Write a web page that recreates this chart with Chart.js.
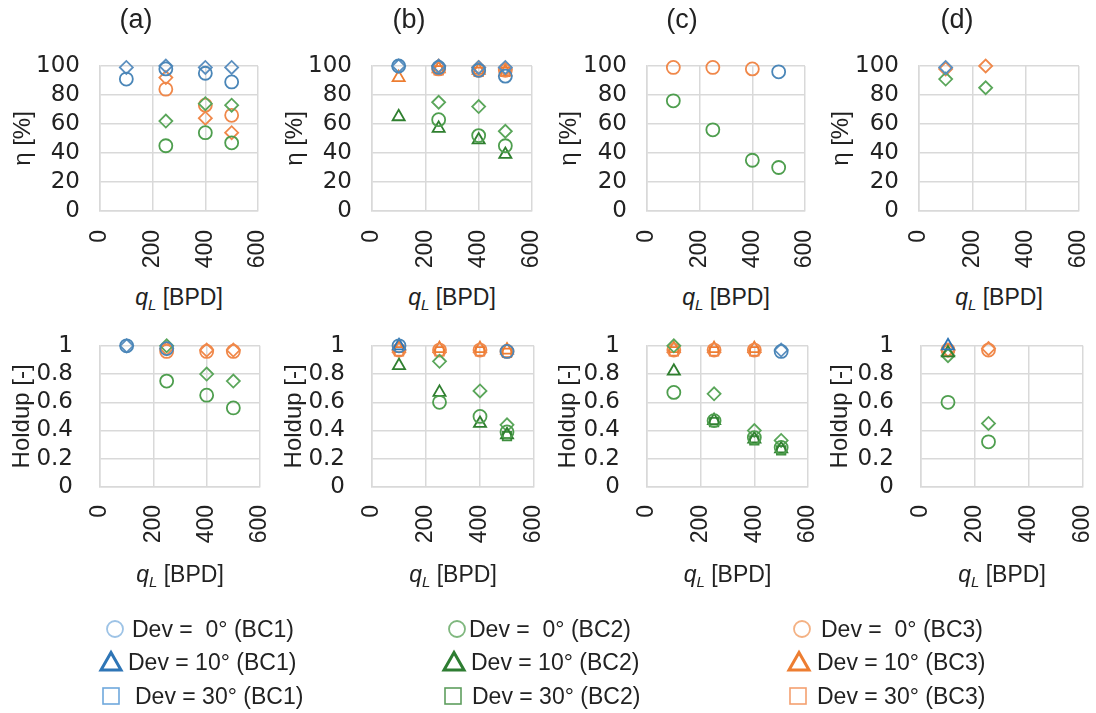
<!DOCTYPE html>
<html>
<head>
<meta charset="utf-8">
<script src="https://cdn.jsdelivr.net/npm/chart.js@4.4.1/dist/chart.umd.min.js"></script>
<style>
  body { margin: 0; width: 1096px; height: 713px; background: #fff; position: relative; overflow: hidden;
         font-family: "Liberation Sans", Arial, sans-serif; color: #222; }
  canvas { position: absolute; }
  .xt { position: absolute; font-size: 23px; white-space: nowrap; transform: translate(-50%, -50%); }
  .xt sub { font-size: 15px; vertical-align: -5px; }
  .lg { position: absolute; font-size: 23px; white-space: pre; color: #222; transform: translateY(-50%); }
  .mk { position: absolute; }
</style>
</head>
<body>
<script>
// x values (liquid rate, BPD)
const qL = [100, 250, 400, 500];

// (a) separation efficiency [%]
const etaA_BC1_0   = [91, 98, 95, 89];
const etaA_BC1_dia = [99, 100, 99, 99];
const etaA_BC2_0   = [null, 45, 54, 47];
const etaA_BC2_dia = [null, 62, 74, 73];
const etaA_BC3_0   = [null, 84, 73, 66];
const etaA_BC3_dia = [null, 92, 64, 54];

// (b) separation efficiency [%]
const etaB_BC1_0   = [100, 99, 97, 93];
const etaB_BC1_dia = [100, 100, 99, 99];
const etaB_BC2_0   = [null, 63, 52, 45];
const etaB_BC2_10  = [65, 57, 49, 39];
const etaB_BC2_dia = [null, 75, 72, 55];
const etaB_BC3_0   = [null, 98, 97, 97];
const etaB_BC3_10  = [92, 98, 97, 96];
const etaB_BC3_30  = [null, 97, 96, 96];
const etaB_BC3_dia = [null, 100, 99, 98];

// (c) separation efficiency [%]
const etaC_BC1_0 = [null, null, null, 96];
const etaC_BC2_0 = [76, 56, 35, 30];
const etaC_BC3_0 = [99, 99, 98, null];

// (d) separation efficiency [%]
const etaD_BC1_dia = [99, null, null, null];
const etaD_BC2_dia = [91, 85, null, null];
const etaD_BC3_dia = [98, 100, null, null];

// (a) holdup [-]
const holdA_BC1_0   = [1.0, 0.98, null, null];
const holdA_BC1_dia = [1.0, null, null, null];
const holdA_BC2_0   = [null, 0.75, 0.65, 0.56];
const holdA_BC2_dia = [null, 1.0, 0.8, 0.75];
const holdA_BC3_0   = [null, 0.96, 0.96, 0.96];
const holdA_BC3_dia = [null, 0.98, 0.97, 0.97];

// (b) holdup [-]
const holdB_BC1_0   = [1.0, null, null, 0.96];
const holdB_BC1_10  = [1.0, null, null, null];
const holdB_BC2_0   = [null, 0.6, 0.5, 0.39];
const holdB_BC2_10  = [0.86, 0.67, 0.45, 0.37];
const holdB_BC2_30  = [null, null, null, 0.36];
const holdB_BC2_dia = [null, 0.89, 0.68, 0.44];
const holdB_BC3_0   = [0.97, 0.97, 0.97, 0.96];
const holdB_BC3_10  = [0.98, 0.98, 0.98, 0.97];
const holdB_BC3_30  = [0.96, 0.96, 0.96, 0.95];

// (c) holdup [-]
const holdC_BC1_0   = [null, null, null, 0.96];
const holdC_BC1_dia = [null, null, null, 0.97];
const holdC_BC2_0   = [0.67, 0.47, 0.35, 0.28];
const holdC_BC2_10  = [0.82, 0.47, 0.34, 0.27];
const holdC_BC2_30  = [null, 0.46, 0.33, 0.26];
const holdC_BC2_dia = [1.0, 0.66, 0.4, 0.33];
const holdC_BC3_0   = [0.97, 0.97, 0.97, null];
const holdC_BC3_10  = [0.98, 0.98, 0.98, null];
const holdC_BC3_30  = [0.96, 0.96, 0.96, null];

// (d) holdup [-]
const holdD_BC1_10  = [1.0, null, null, null];
const holdD_BC2_0   = [0.6, 0.32, null, null];
const holdD_BC2_10  = [0.95, null, null, null];
const holdD_BC2_dia = [0.93, 0.45, null, null];
const holdD_BC3_0   = [0.97, 0.97, null, null];
const holdD_BC3_dia = [0.97, 0.98, null, null];

const panelTitles = ['(a)', '(b)', '(c)', '(d)'];
const xTicks = [0, 200, 400, 600];

// marker colours per BC / marker shape
const COLORS = {
  BC1: { circle: '#4A86B8', triangle: '#2E75B6', rect: '#5B9BD5', rectRot: '#5B8FBF' },
  BC2: { circle: '#4E9E4E', triangle: '#2F7F2F', rect: '#3E8E3E', rectRot: '#5AA65A' },
  BC3: { circle: '#F0884A', triangle: '#ED7D31', rect: '#F07A35', rectRot: '#F0884A' },
};
const RADIUS = { circle: 6.5, triangle: 7, rect: 6, rectRot: 6.5 };
const DEV = { circle: '0°', triangle: '10°', rect: '30°' };

function S(arr, bc, style) { return { arr, bc, style }; }

const etaPanels = [
  [S(etaA_BC1_0, 'BC1', 'circle'), S(etaA_BC1_dia, 'BC1', 'rectRot'), S(etaA_BC2_0, 'BC2', 'circle'),
   S(etaA_BC2_dia, 'BC2', 'rectRot'), S(etaA_BC3_0, 'BC3', 'circle'), S(etaA_BC3_dia, 'BC3', 'rectRot')],
  [S(etaB_BC1_0, 'BC1', 'circle'), S(etaB_BC1_dia, 'BC1', 'rectRot'), S(etaB_BC2_0, 'BC2', 'circle'),
   S(etaB_BC2_10, 'BC2', 'triangle'), S(etaB_BC2_dia, 'BC2', 'rectRot'), S(etaB_BC3_0, 'BC3', 'circle'),
   S(etaB_BC3_10, 'BC3', 'triangle'), S(etaB_BC3_30, 'BC3', 'rect'), S(etaB_BC3_dia, 'BC3', 'rectRot')],
  [S(etaC_BC1_0, 'BC1', 'circle'), S(etaC_BC2_0, 'BC2', 'circle'), S(etaC_BC3_0, 'BC3', 'circle')],
  [S(etaD_BC1_dia, 'BC1', 'rectRot'), S(etaD_BC2_dia, 'BC2', 'rectRot'), S(etaD_BC3_dia, 'BC3', 'rectRot')],
];
const holdPanels = [
  [S(holdA_BC1_0, 'BC1', 'circle'), S(holdA_BC1_dia, 'BC1', 'rectRot'), S(holdA_BC2_0, 'BC2', 'circle'),
   S(holdA_BC2_dia, 'BC2', 'rectRot'), S(holdA_BC3_0, 'BC3', 'circle'), S(holdA_BC3_dia, 'BC3', 'rectRot')],
  [S(holdB_BC1_0, 'BC1', 'circle'), S(holdB_BC1_10, 'BC1', 'triangle'), S(holdB_BC2_0, 'BC2', 'circle'),
   S(holdB_BC2_10, 'BC2', 'triangle'), S(holdB_BC2_30, 'BC2', 'rect'), S(holdB_BC2_dia, 'BC2', 'rectRot'),
   S(holdB_BC3_0, 'BC3', 'circle'), S(holdB_BC3_10, 'BC3', 'triangle'), S(holdB_BC3_30, 'BC3', 'rect')],
  [S(holdC_BC1_0, 'BC1', 'circle'), S(holdC_BC1_dia, 'BC1', 'rectRot'), S(holdC_BC2_0, 'BC2', 'circle'),
   S(holdC_BC2_10, 'BC2', 'triangle'), S(holdC_BC2_30, 'BC2', 'rect'), S(holdC_BC2_dia, 'BC2', 'rectRot'),
   S(holdC_BC3_0, 'BC3', 'circle'), S(holdC_BC3_10, 'BC3', 'triangle'), S(holdC_BC3_30, 'BC3', 'rect')],
  [S(holdD_BC1_10, 'BC1', 'triangle'), S(holdD_BC2_0, 'BC2', 'circle'), S(holdD_BC2_10, 'BC2', 'triangle'),
   S(holdD_BC2_dia, 'BC2', 'rectRot'), S(holdD_BC3_0, 'BC3', 'circle'), S(holdD_BC3_dia, 'BC3', 'rectRot')],
];

// page geometry
const COL_LEFT = [0, 272, 546, 818];
const COL_RIGHT = [272, 546, 818, 1096];
const TOP_PLOT = [[100, 258], [372, 532], [647, 805], [919, 1079]];
const BOT_PLOT = [[100, 260], [372, 534], [647, 808], [921, 1083]];

function toDatasets(list) {
  return list.map(s => {
    const c = COLORS[s.bc][s.style];
    return {
      label: s.style === 'rectRot' ? '(' + s.bc + ')' : 'Dev = ' + DEV[s.style] + ' (' + s.bc + ')',
      data: qL.map((x, i) => ({ x, y: s.arr[i] })).filter(p => p.y !== null),
      pointStyle: s.style,
      pointRadius: RADIUS[s.style],
      pointBorderWidth: 1.8,
      borderColor: c,
      backgroundColor: 'rgba(0,0,0,0)',
      pointBorderColor: c,
      pointBackgroundColor: 'rgba(0,0,0,0)',
      showLine: false,
      clip: false,
    };
  });
}

function makePanel(col, row) {
  const top = row === 0;
  const cv = document.createElement('canvas');
  const h = top ? 280 : 260;
  const w = COL_RIGHT[col] - COL_LEFT[col];
  cv.width = w; cv.height = h;
  cv.style.left = COL_LEFT[col] + 'px';
  cv.style.top = (top ? 0 : 305) + 'px';
  document.body.appendChild(cv);

  const plot = top ? TOP_PLOT[col] : BOT_PLOT[col];
  const R = COL_RIGHT[col] - plot[1];
  const L = top ? R : 8;
  const yw = plot[0] - COL_LEFT[col] - L;
  const xh = top ? 280 - 211 : 565 - 487;

  new Chart(cv.getContext('2d'), {
    type: 'scatter',
    data: { datasets: toDatasets(top ? etaPanels[col] : holdPanels[col]) },
    options: {
      responsive: false,
      animation: false,
      layout: { padding: { left: L, right: R, top: top ? 0 : 37, bottom: 0 } },
      plugins: {
        legend: { display: false },
        tooltip: { enabled: false },
        title: {
          display: top,
          text: panelTitles[col],
          color: '#222',
          font: { family: 'Liberation Sans', size: 27, weight: 'normal', lineHeight: 1.1 },
          padding: { top: 6, bottom: 30.3 },
        },
      },
      scales: {
        x: {
          type: 'linear', min: 0, max: 600,
          afterBuildTicks: s => { s.ticks = xTicks.map(v => ({ value: v })); },
          ticks: {
            minRotation: 90, maxRotation: 90, padding: top ? 19 : 18, autoSkip: false,
            color: '#222', font: { family: 'Liberation Sans', size: 23 },
          },
          grid: { color: '#d9d9d9', lineWidth: 1.5, drawTicks: false },
          border: { color: '#d9d9d9', width: 1.5 },
          afterFit: s => { s.height = xh; s.paddingLeft = 0; s.paddingRight = 0; },
        },
        y: {
          min: 0, max: top ? 100 : 1,
          ticks: {
            stepSize: top ? 20 : 0.2, padding: top ? 20 : 27, autoSkip: false,
            callback: v => String(Math.round(v * 10) / 10),
            color: '#222', font: { family: 'DejaVu Sans', size: 23 },
          },
          grid: { color: '#d9d9d9', lineWidth: 1.5, drawTicks: false },
          border: { color: '#d9d9d9', width: 1.5 },
          title: {
            display: true, text: top ? 'η [%]' : 'Holdup [-]', color: '#222',
            font: { family: 'Liberation Sans', size: 24 },
            padding: { top: top ? 23 - 14.4 - L : -0.4, bottom: 0 },
          },
          afterFit: s => { s.width = yw; },
        },
      },
    },
  });

  const xt = document.createElement('div');
  xt.className = 'xt';
  xt.innerHTML = '<i>q</i><sub><i>L</i></sub> [BPD]';
  xt.style.left = ((plot[0] + plot[1]) / 2) + 'px';
  xt.style.top = (top ? 298 : 575) + 'px';
  document.body.appendChild(xt);
}

for (let r = 0; r < 2; r++) for (let c = 0; c < 4; c++) makePanel(c, r);

// legend
const legendItems = [
  { shape: 'circle',   color: '#9DC3E6', mx: 115, tx: 132, y: 629, text: 'Dev =  0° (BC1)' },
  { shape: 'triangle', color: '#2E75B6', mx: 111, tx: 128, y: 662, text: 'Dev = 10° (BC1)' },
  { shape: 'rect',     color: '#6FA8DC', mx: 111, tx: 135, y: 696, text: 'Dev = 30° (BC1)' },
  { shape: 'circle',   color: '#7FB77E', mx: 457, tx: 469, y: 629, text: 'Dev =  0° (BC2)' },
  { shape: 'triangle', color: '#2E7D32', mx: 454, tx: 471, y: 662, text: 'Dev = 10° (BC2)' },
  { shape: 'rect',     color: '#5E9E5E', mx: 453, tx: 472, y: 696, text: 'Dev = 30° (BC2)' },
  { shape: 'circle',   color: '#F4B183', mx: 802, tx: 821, y: 629, text: 'Dev =  0° (BC3)' },
  { shape: 'triangle', color: '#ED7D31', mx: 799, tx: 817, y: 662, text: 'Dev = 10° (BC3)' },
  { shape: 'rect',     color: '#F4A070', mx: 798, tx: 817, y: 696, text: 'Dev = 30° (BC3)' },
];
const NS = 'http://www.w3.org/2000/svg';
legendItems.forEach(it => {
  const svg = document.createElementNS(NS, 'svg');
  svg.setAttribute('width', 26); svg.setAttribute('height', 26);
  svg.setAttribute('class', 'mk');
  svg.style.left = (it.mx - 13) + 'px';
  svg.style.top = (it.y - 13) + 'px';
  let el;
  if (it.shape === 'circle') {
    el = document.createElementNS(NS, 'circle');
    el.setAttribute('cx', 13); el.setAttribute('cy', 13); el.setAttribute('r', 8);
    el.setAttribute('stroke-width', 1.8);
  } else if (it.shape === 'triangle') {
    el = document.createElementNS(NS, 'polygon');
    el.setAttribute('points', '13,3.5 23,21 3,21');
    el.setAttribute('stroke-width', 3);
  } else {
    el = document.createElementNS(NS, 'rect');
    el.setAttribute('x', 5); el.setAttribute('y', 5); el.setAttribute('width', 16); el.setAttribute('height', 16);
    el.setAttribute('stroke-width', 1.6);
  }
  el.setAttribute('fill', 'none');
  el.setAttribute('stroke', it.color);
  svg.appendChild(el);
  document.body.appendChild(svg);

  const t = document.createElement('div');
  t.className = 'lg';
  t.textContent = it.text;
  t.style.left = it.tx + 'px';
  t.style.top = it.y + 'px';
  document.body.appendChild(t);
});
</script>
</body>
</html>
